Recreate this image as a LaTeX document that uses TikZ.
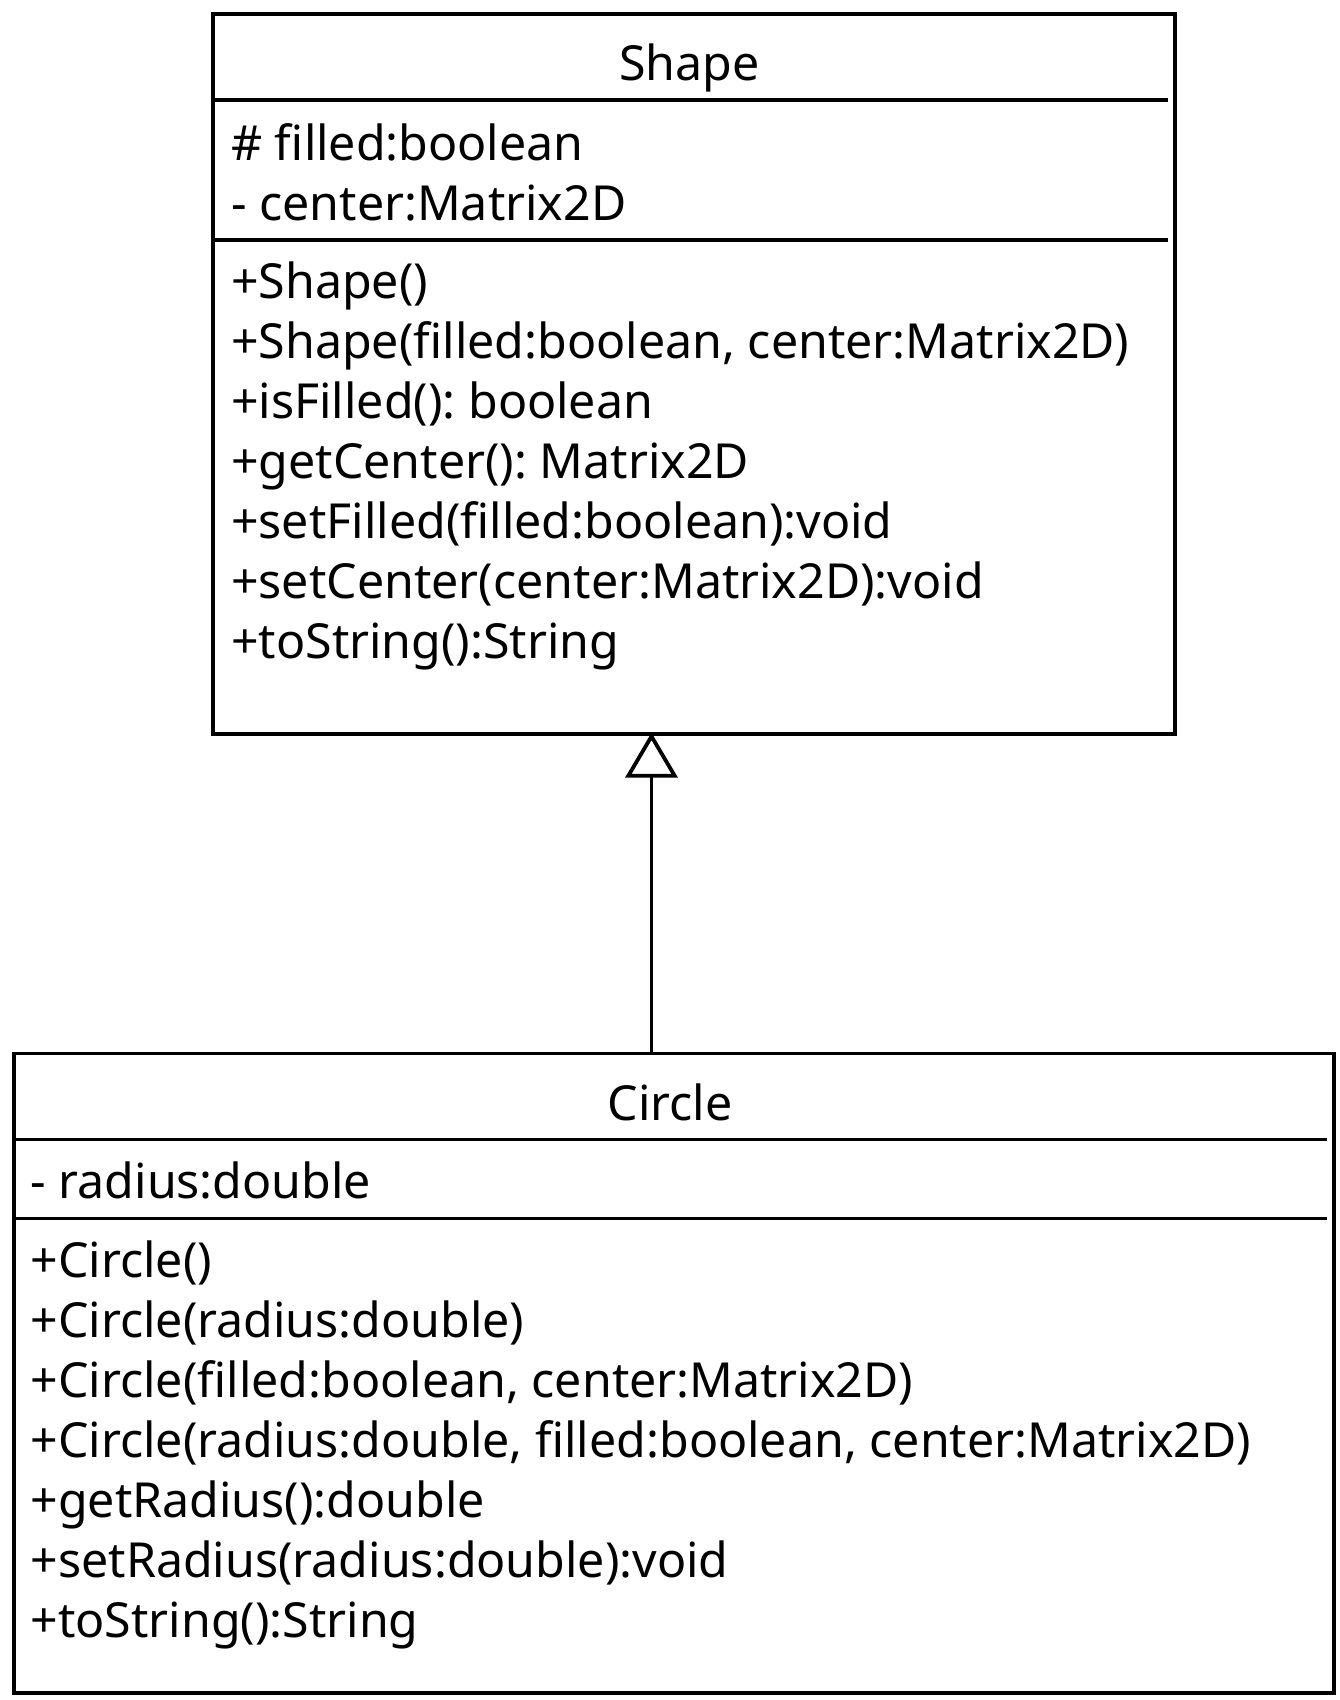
\documentclass[tikz,border=0pt]{standalone}
\usepackage{fontspec}
\setmainfont{Noto Sans}
\usetikzlibrary{arrows.meta}
\begin{document}
\frenchspacing
\begin{tikzpicture}[x=1pt,y=-1pt,
  classbox/.style={draw=black, line width=3.8pt, inner sep=0pt, anchor=north west},
  classtitle/.style={font=\fontsize{48.3}{60}\selectfont, anchor=base, inner sep=0pt},
  member/.style={font=\fontsize{48.3}{60}\selectfont, anchor=base west, inner sep=0pt},
  sepline/.style={line width=3.8pt},
  inherit/.style={line width=3.8pt, shorten >=-3pt, -{Triangle[open, length=45pt, width=52pt]}}]
\useasboundingbox (0,0) rectangle (1340,1700);
% Shape class
\node[classbox, minimum width=961.6pt, minimum height=719.9pt] (shape) at (211.4,11.9) {};
\coordinate (s1a) at (211.4,99.7); \coordinate (s1b) at (1167.6,99.7);
\coordinate (s2a) at (211.4,239.6); \coordinate (s2b) at (1167.6,239.6);
\draw[sepline] (s1a) -- (s1b);
\draw[sepline] (s2a) -- (s2b);
\node[classtitle] (shapetitle) at (689.5,80) {Shape};
\node[member] (sa1) at (231,160) {\# filled:boolean};
\node[member] (sa2) at (231,220) {- center:Matrix2D};
\node[member] (so1) at (231,298) {+Shape()};
\node[member] (so2) at (231,358) {+Shape(filled:boolean, center:Matrix2D)};
\node[member] (so3) at (231,418) {+isFilled(): boolean};
\node[member] (so4) at (231,478) {+getCenter(): Matrix2D};
\node[member] (so5) at (231,538) {+setFilled(filled:boolean):void};
\node[member] (so6) at (231,598) {+setCenter(center:Matrix2D):void};
\node[member] (so7) at (231,658) {+toString():String};
% Circle class
\node[classbox, minimum width=1320.5pt, minimum height=639.6pt] (circle) at (11.9,1051.6) {};
\coordinate (c1a) at (11.9,1139.4); \coordinate (c1b) at (1327,1139.4);
\coordinate (c2a) at (11.9,1218.5); \coordinate (c2b) at (1327,1218.5);
\draw[sepline] (c1a) -- (c1b);
\draw[sepline] (c2a) -- (c2b);
\node[classtitle] (circletitle) at (670,1120) {Circle};
\node[member] (ca1) at (30.4,1198) {- radius:double};
\node[member] (co1) at (30.4,1277) {+Circle()};
\node[member] (co2) at (30.4,1337) {+Circle(radius:double)};
\node[member] (co3) at (30.4,1397) {+Circle(filled:boolean, center:Matrix2D)};
\node[member] (co4) at (30.4,1457) {+Circle(radius:double, filled:boolean, center:Matrix2D)};
\node[member] (co5) at (30.4,1517) {+getRadius():double};
\node[member] (co6) at (30.4,1577) {+setRadius(radius:double):void};
\node[member] (co7) at (30.4,1637) {+toString():String};
% inheritance
\coordinate (arrowx) at (651.5,900);
\draw[inherit] (circle.north -| arrowx) -- (shape.south -| arrowx);
\end{tikzpicture}
\end{document}
